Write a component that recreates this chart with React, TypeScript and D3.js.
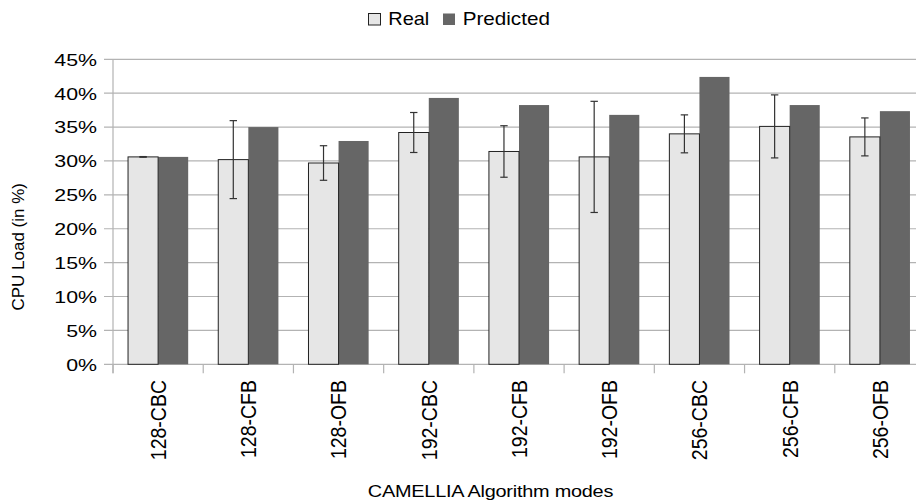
import React from "react";
import * as d3 from "d3";

const categories = ["128-CBC", "128-CFB", "128-OFB", "192-CBC", "192-CFB", "192-OFB", "256-CBC", "256-CFB", "256-OFB"];
const seriesNames = ["Real", "Predicted"];
const realValues = [30.6, 30.2, 29.7, 34.2, 31.4, 30.6, 34.0, 35.1, 33.55];
const realErrors = [0.05, 5.75, 2.55, 2.95, 3.8, 8.2, 2.8, 4.65, 2.8];
const predictedValues = [30.6, 35.0, 32.95, 39.3, 38.25, 36.8, 42.4, 38.25, 37.35];
const yTicks = [0, 5, 10, 15, 20, 25, 30, 35, 40, 45];

const W = 916;
const H = 504;
const FONT = "'Liberation Sans', Arial, sans-serif";
const SX = 1.27;

export default function App() {
  const x = d3.scaleBand<string>().domain(categories).range([113, 925]).padding(0);
  const bw = x.bandwidth();
  const xs = d3.scaleBand<string>().domain(seriesNames).range([bw / 6, bw - bw / 6]).padding(0);
  const y = d3.scaleLinear().domain([0, 45]).range([364.3, 59.3]);
  const sw = xs.bandwidth();
  const grid = "#b3b3b3";
  const boundaries = d3.range(categories.length + 1).map((i) => 113 + i * bw);

  return (
    <svg width={W} height={H} style={{ position: "absolute", left: 0, top: 0, background: "#fff" }} fontFamily={FONT}>
      <rect x={0} y={0} width={W} height={H} fill="#fff" />
      {/* gridlines and y ticks */}
      {yTicks.map((t) => (
        <g key={t}>
          <line x1={104} x2={W} y1={y(t)} y2={y(t)} stroke={grid} strokeWidth={1.2} />
          <text transform={`translate(97,${y(t) + 6.4}) scale(${SX},1)`} textAnchor="end" fontSize={16.8} fill="#000">
            {t}%
          </text>
        </g>
      ))}
      {/* y axis line */}
      <line x1={113} x2={113} y1={y(45)} y2={373.3} stroke={grid} strokeWidth={1.2} />
      {/* x ticks */}
      {boundaries.map((b, i) => (
        <line key={i} x1={b} x2={b} y1={y(0)} y2={373.3} stroke={grid} strokeWidth={1.2} />
      ))}
      {/* bars */}
      {categories.map((c, i) => {
        const x0 = (x(c) as number);
        const rx = x0 + (xs("Real") as number);
        const px = x0 + (xs("Predicted") as number);
        const cx = rx + sw / 2;
        const e1 = y(realValues[i] + realErrors[i]);
        const e2 = y(realValues[i] - realErrors[i]);
        return (
          <g key={c}>
            <rect x={px} y={y(predictedValues[i])} width={sw} height={y(0) - y(predictedValues[i])} fill="#666666" />
            <rect x={rx} y={y(realValues[i])} width={sw} height={y(0) - y(realValues[i])} fill="#e6e6e6" stroke="#222" strokeWidth={1} />
            <line x1={cx} x2={cx} y1={e1} y2={e2} stroke="#333" strokeWidth={1.2} />
            <line x1={cx - 3.7} x2={cx + 3.7} y1={e1} y2={e1} stroke="#333" strokeWidth={1.2} />
            <line x1={cx - 3.7} x2={cx + 3.7} y1={e2} y2={e2} stroke="#333" strokeWidth={1.2} />
            <text
              transform={`translate(${x0 + bw / 2 + 7.9},380) rotate(-90) scale(1,1.1)`}
              textAnchor="end"
              fontSize={19.5}
              fill="#000"
            >
              {c}
            </text>
          </g>
        );
      })}
      {/* y title */}
      <text transform="translate(24,246.8) rotate(-90)" textAnchor="middle" fontSize={17} fill="#000">
        CPU Load (in %)
      </text>
      {/* x title */}
      <text transform={`translate(490.5,496.7) scale(1.17,1)`} textAnchor="middle" fontSize={17} fill="#000" letterSpacing={-0.2}>
        CAMELLIA Algorithm modes
      </text>
      {/* legend */}
      <rect x={368.5} y={13.5} width={12} height={11.5} fill="#e6e6e6" stroke="#222" strokeWidth={1} />
      <text transform={`translate(388.3,25.3) scale(1.14,1)`} fontSize={17.5} fill="#000">Real</text>
      <rect x={443} y={13.5} width={12} height={11.5} fill="#666666" />
      <text transform={`translate(462.7,25.3) scale(1.18,1)`} fontSize={17.5} fill="#000">Predicted</text>
    </svg>
  );
}
